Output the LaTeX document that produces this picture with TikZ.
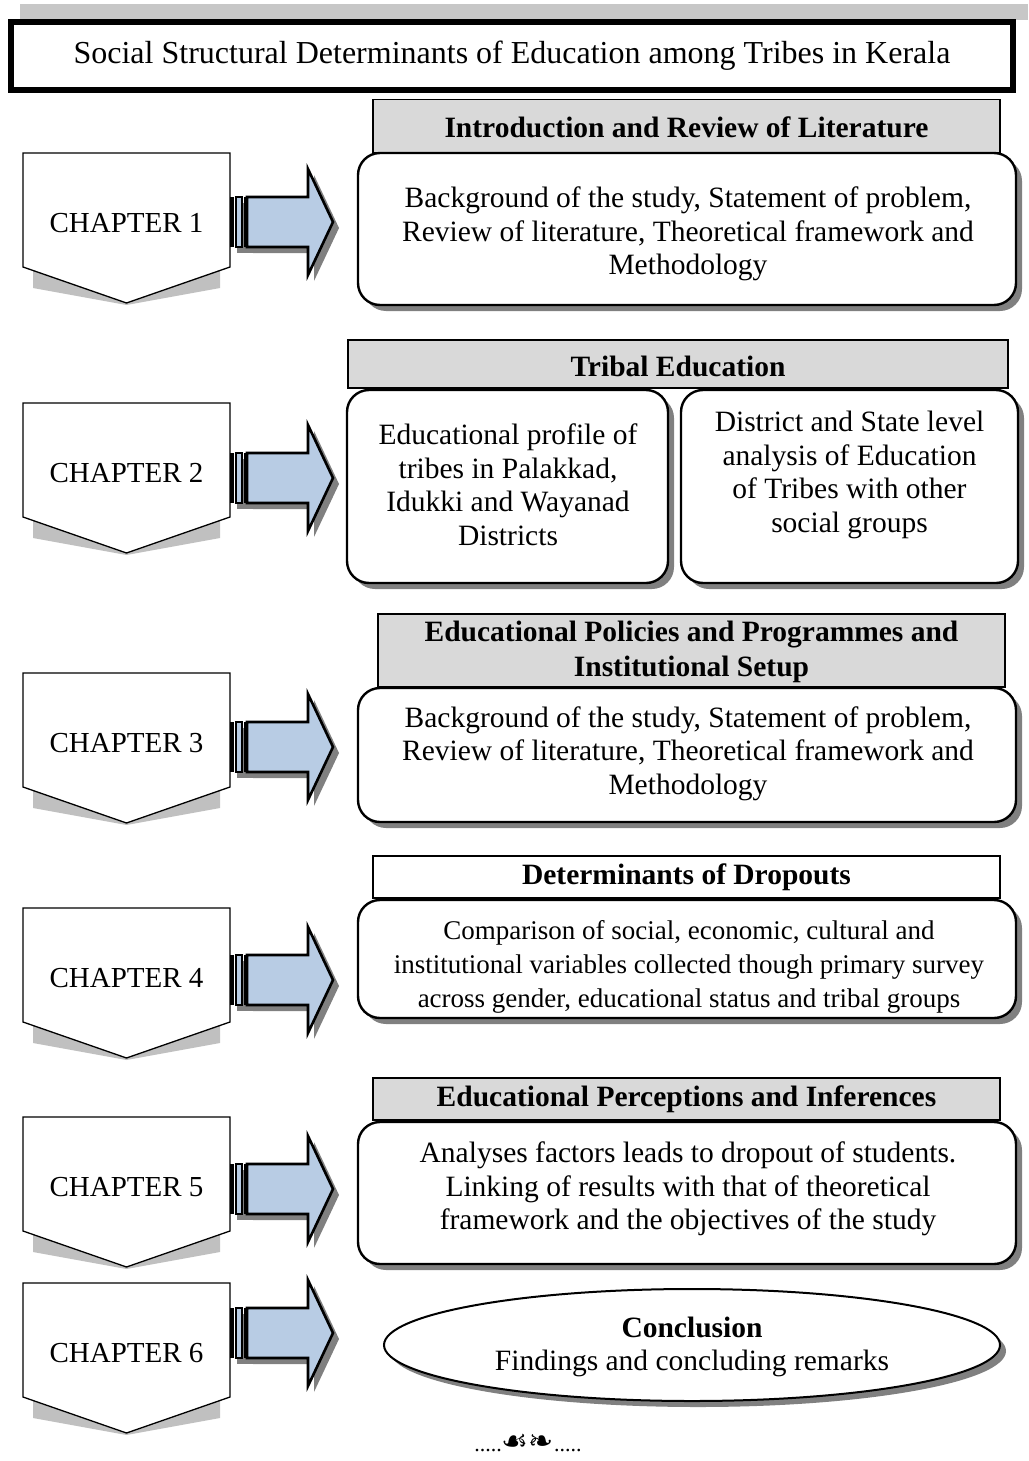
\documentclass[tikz,border=0pt]{standalone}
\usepackage{fontspec}
\setmainfont{Liberation Serif}
\newfontfamily\dejavu{DejaVu Sans}
\usetikzlibrary{shapes.geometric}
\definecolor{arrowblue}{RGB}{184,204,228}
\definecolor{hdrgray}{RGB}{217,217,217}
\definecolor{shadegray}{RGB}{128,128,128}
\definecolor{pshadegray}{RGB}{192,192,192}
\tikzset{
  bodytext/.style={font=\fontsize{29.5}{33.5}\selectfont, align=center, inner sep=0pt},
  smalltext/.style={font=\fontsize{27}{34}\selectfont, align=center, inner sep=0pt},
  hdrbox/.style={draw=black, line width=1.2pt, fill=hdrgray, inner sep=0pt},
  hdrtext/.style={font=\bfseries\fontsize{29.5}{35}\selectfont, align=center, inner sep=0pt},
  rbox/.style={draw=black, line width=2.4pt, rounded corners=22pt, fill=white, inner sep=0pt},
  rshadow/.style={fill=shadegray, rounded corners=22pt},
  pentline/.style={draw=black, line width=1.3pt, fill=white, line join=miter},
  pshadow/.style={fill=pshadegray},
  arrowline/.style={draw=black, line width=2.6pt, fill=arrowblue, line join=miter},
  chaptext/.style={font=\fontsize{29}{34}\selectfont, inner sep=0pt}
}
% #1 number, #2 top y of pentagon, #3 centre y of arrow
\newcommand\chapblock[3]{%
  \fill[pshadow] (33,#2+108) -- (220,#2+108) -- (220,#2+135) -- (126.5,#2+152) -- (33,#2+135) -- cycle;
  \draw[pentline] (23,#2) -- (230,#2) -- (230,#2+114) -- (126.5,#2+150) -- (23,#2+114) -- cycle;
  \node[chaptext] (ch#1) at (126.5,#2+70) {CHAPTER #1};
  \begin{scope}[shift={(6,6)}]
    \fill[shadegray] (231,#3-25) rectangle (247,#3+25);
    \fill[shadegray] (247,#3-25) -- (308,#3-25) -- (308,#3-53) -- (333,#3) -- (308,#3+53) -- (308,#3+25) -- (247,#3+25) -- cycle;
  \end{scope}
  \fill[black] (230,#3-25) rectangle (234,#3+25);
  \draw[fill=arrowblue, line width=1.3pt] (236,#3-25) rectangle (242,#3+25);
  \fill[black] (243.5,#3-25) rectangle (247.5,#3+25);
  \draw[arrowline] (247,#3-25) -- (308,#3-25) -- (308,#3-53) -- (333,#3) -- (308,#3+53) -- (308,#3+25) -- (247,#3+25) -- cycle;
}
\begin{document}
\begin{tikzpicture}[x=1pt,y=-1pt]
\useasboundingbox (0,0) rectangle (1028,1461);
\fill[white] (0,0) rectangle (1028,1461);

% title
\fill[black!22] (20,4) rectangle (1028,20);
\node[draw=black, line width=6pt, fill=white, minimum width=1002pt, minimum height=68pt, inner sep=0pt,
      font=\fontsize{32}{36}\selectfont] (title) at (512,56) {Social Structural Determinants of Education among Tribes in Kerala};

% chapter blocks
\chapblock{1}{153}{222}
\chapblock{2}{403}{478}
\chapblock{3}{673}{747}
\chapblock{4}{908}{980}
\chapblock{5}{1117}{1189}
\chapblock{6}{1283}{1333}

% chapter 1
\node[hdrbox, minimum width=627pt, minimum height=53pt] (h1) at (686.5,126) {};
\node[hdrtext] (h1t) at (686.5,127) {Introduction and Review of Literature};
\fill[rshadow] (364,159) rectangle (1022,311);
\node[rbox, minimum width=658pt, minimum height=152pt] (b1) at (687,229) {};
\node[bodytext] (b1t) at (688,234) {Background of the study, Statement of problem,\\Review of literature, Theoretical framework and\\Methodology};

% chapter 2
\node[hdrbox, minimum width=660pt, minimum height=48pt] (h2) at (678,364) {};
\node[hdrtext] (h2t) at (678,366) {Tribal Education};
\fill[rshadow] (353,396) rectangle (674,589);
\fill[rshadow] (687,396) rectangle (1024,589);
\node[rbox, minimum width=321pt, minimum height=193pt] (b2a) at (507.5,486.5) {};
\node[rbox, minimum width=337pt, minimum height=193pt] (b2b) at (849.5,486.5) {};
\node[bodytext] (b2at) at (508,485) {Educational profile of\\tribes in Palakkad,\\Idukki and Wayanad\\Districts};
\node[bodytext] (b2bt) at (849.5,475) {District and State level\\analysis of Education\\of Tribes with other\\social groups};

% chapter 3
\node[hdrbox, minimum width=627pt, minimum height=73pt] (h3) at (691.5,650.5) {};
\node[hdrtext] (h3t) at (691.5,651.5) {Educational Policies and Programmes and\\Institutional Setup};
\fill[rshadow] (364,694) rectangle (1022,828);
\node[rbox, minimum width=658pt, minimum height=134pt] (b3) at (687,755) {};
\node[bodytext] (b3t) at (688,753.5) {Background of the study, Statement of problem,\\Review of literature, Theoretical framework and\\Methodology};

% chapter 4
\node[hdrbox, fill=white, minimum width=627pt, minimum height=42pt] (h4) at (686.5,877) {};
\node[hdrtext] (h4t) at (686.5,877) {Determinants of Dropouts};
\fill[rshadow] (364,906) rectangle (1022,1024);
\node[rbox, minimum width=658pt, minimum height=118pt] (b4) at (687,959) {};
\node[smalltext] (b4t) at (689,967) {Comparison of social, economic, cultural and\\institutional variables collected though primary survey\\across gender, educational status and tribal groups};

% chapter 5
\node[hdrbox, minimum width=627pt, minimum height=42pt] (h5) at (686.5,1099) {};
\node[hdrtext] (h5t) at (686.5,1099) {Educational Perceptions and Inferences};
\fill[rshadow] (364,1128) rectangle (1022,1270);
\node[rbox, minimum width=658pt, minimum height=142pt] (b5) at (687,1193) {};
\node[bodytext] (b5t) at (688,1189) {Analyses factors leads to dropout of students.\\Linking of results with that of theoretical\\framework and the objectives of the study};

% chapter 6
\fill[shadegray] (698,1351) ellipse [x radius=308, y radius=56];
\node[ellipse, draw=black, line width=2pt, fill=white, minimum width=616pt, minimum height=112pt, inner sep=0pt] (b6) at (692,1345) {};
\node[bodytext] (b6t) at (692,1347) {\textbf{Conclusion}\\Findings and concluding remarks};

% ornament
\node[font=\fontsize{22}{26}\selectfont, inner sep=0pt] (orn) at (528,1443) {.....{\dejavu\fontsize{30}{32}\selectfont ☙❧}.....};
\end{tikzpicture}
\end{document}
